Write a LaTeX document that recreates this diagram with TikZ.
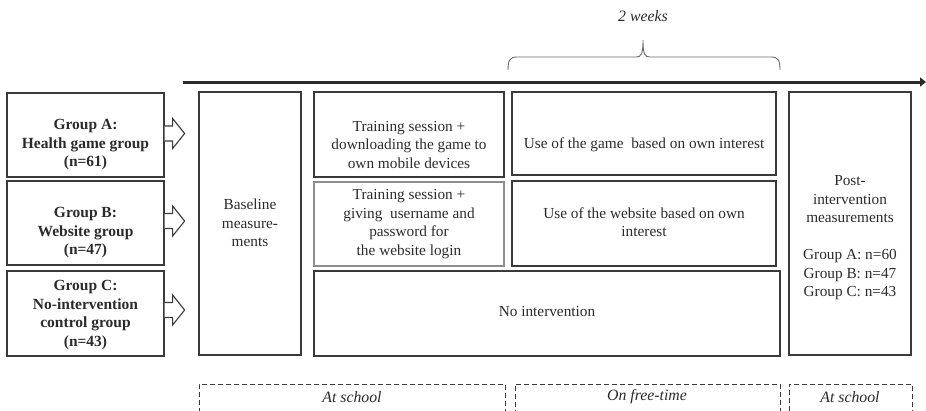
\documentclass[tikz,border=0pt]{standalone}
\usepackage{fontspec}
\setmainfont{Liberation Serif}
\usetikzlibrary{arrows.meta}
\definecolor{ink}{HTML}{2B2B2B}
\definecolor{frame}{HTML}{3A3A3A}
\definecolor{lightframe}{HTML}{8E8E8E}
\begin{document}
\begin{tikzpicture}[x=1pt,y=-1pt,
  box/.style={draw=frame,line width=1.2pt,rectangle,inner sep=0pt},
  lightbox/.style={box,draw=lightframe},
  txt/.style={text=ink,align=center,inner sep=0pt,font=\fontsize{15.3}{18.5}\selectfont},
  grouptxt/.style={txt,font=\fontsize{15.5}{18.5}\selectfont\bfseries},
  itxt/.style={txt,font=\fontsize{15.8}{18.5}\selectfont\itshape},
  zone/.style={draw=frame,line width=1pt,dash pattern=on 5pt off 3pt,rectangle,inner sep=0pt},
  blockarrow/.style={draw=frame,line width=1.1pt,fill=white,line join=miter},
  timeline/.style={draw=ink,line width=3pt,-{Triangle[length=6pt,width=9pt]}},
  bracket/.style={draw=frame!75,line width=0.9pt}]
\clip (0,0) rectangle (926,410);

% group boxes
\node[box,minimum width=157,minimum height=84] (gA) at (85.5,135) {};
\node[box,minimum width=157,minimum height=84] (gB) at (85.5,223) {};
\node[box,minimum width=157,minimum height=85] (gC) at (85.5,313.5) {};
\node[grouptxt] (gAt) at (85.5,145) {Group A:\\Health game group\\(n=61)};
\node[grouptxt] (gBt) at (85.5,233) {Group B:\\Website group\\(n=47)};
\node[grouptxt] (gCt) at (85.5,315) {Group C:\\No-intervention\\control group\\(n=43)};

% block arrows leaving the group boxes
\foreach \g/\y in {gA/133.5,gB/221,gC/310}{
  \draw[blockarrow] (\g.east |- 0,\y) ++(0,-7.5) -- ++(8,0) -- ++(0,-7.5)
    -- ++(12,15) -- ++(-12,15) -- ++(0,-7.5) -- ++(-8,0);
}

% baseline
\node[box,minimum width=102,minimum height=263] (base) at (250,223.5) {};
\node[txt] (baset) at (250,223) {Baseline\\measure-\\ments};

% at-school activities
\node[box,minimum width=190,minimum height=85] (trA) at (409,134.5) {};
\node[txt] (trAt) at (409,145) {Training session +\\downloading the game to\\own mobile devices};
\node[lightbox,minimum width=190,minimum height=84] (trB) at (409,224) {};
\node[txt] (trBt) at (409,224) {Training session +\\giving\ \ username and\\password for\\the website login};
\node[box,minimum width=466,minimum height=85] (noint) at (547,313.5) {};
\node[txt] (nointt) at (547,312) {No intervention};

% free-time activities
\node[box,minimum width=264,minimum height=83] (useG) at (644,133.5) {};
\node[txt] (useGt) at (644,145) {Use of the game\ \ based on own interest};
\node[box,minimum width=264,minimum height=85] (useW) at (644,223.5) {};
\node[txt] (useWt) at (644,222) {Use of the website based on own\\interest};

% post-intervention
\node[box,minimum width=122,minimum height=263] (post) at (850,223.5) {};
\node[txt] (postt) at (850,238) {Post-\\intervention\\measurements\\[18.5pt]Group A: n=60\\Group B: n=47\\Group C: n=43};

% time axis and two-week brace
\coordinate (t0) at (183,82);
\coordinate (t1) at (926,82);
\draw[timeline] (t0) -- (t1);
\coordinate (b0) at (508,70);
\coordinate (b1) at (780,70);
\coordinate (btip) at (643,40);
\draw[bracket] (b0) .. controls (508,60) and (510,57) .. (517,57)
  -- (636,57) .. controls (641,57) and (643,55) .. (btip)
  .. controls (643,55) and (645,57) .. (650,57)
  -- (771,57) .. controls (778,57) and (780,60) .. (b1);
\node[itxt] (weeks) at (643,16) {2 weeks};

% settings
\node[zone,minimum width=306,minimum height=60] (z1) at (352,414) {};
\node[zone,minimum width=265,minimum height=60] (z2) at (647.5,414) {};
\node[zone,minimum width=123,minimum height=60] (z3) at (850.5,414) {};
\node[itxt] (z1t) at (352,397) {At school};
\node[itxt] (z2t) at (647,397) {On free-time};
\node[itxt] (z3t) at (850,397) {At school};
\end{tikzpicture}
\end{document}
